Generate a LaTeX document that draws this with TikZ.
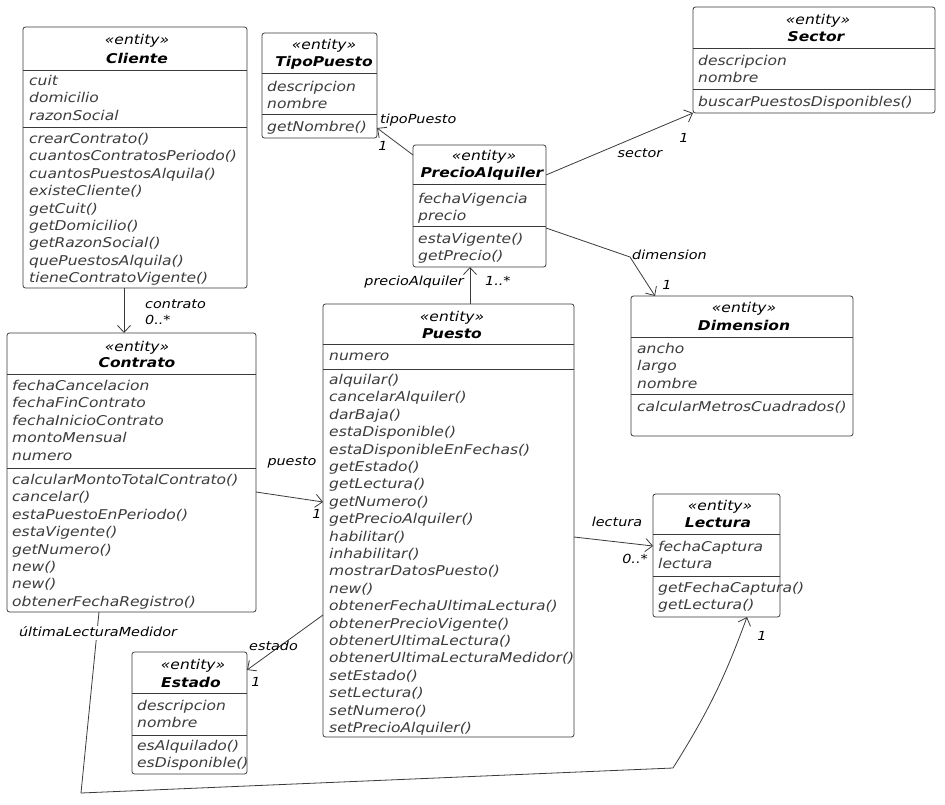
\documentclass[tikz,border=0pt]{standalone}
\usepackage{fontspec}
\usepackage{tikz}
\setmainfont{DejaVu Sans}[FakeStretch=1.15]
\usetikzlibrary{arrows.meta}
\definecolor{LineGray}{HTML}{3A3A3A}
\definecolor{MemberGray}{HTML}{3C3C3C}

\begin{document}
\begin{tikzpicture}[x=1pt,y=-1pt,
  every node/.style={font=\fontsize{13.5}{16}\selectfont},
  classbox/.style={draw=LineGray, line width=0.8pt, rounded corners=2.5pt, fill=white, anchor=north west, inner sep=0pt, outer sep=0pt},
  divider/.style={LineGray, line width=0.8pt},
  stereo/.style={font=\fontsize{13.5}{16}\selectfont\itshape, inner sep=0pt},
  cname/.style={font=\fontsize{13.5}{16}\selectfont\bfseries\itshape, inner sep=0pt},
  member/.style={font=\fontsize{13.5}{16}\selectfont\itshape, color=MemberGray, anchor=west, inner sep=0pt, text height=9.5pt, text depth=2.5pt},
  role/.style={font=\fontsize{12.5}{15}\selectfont\itshape, inner sep=0pt, text height=9pt, text depth=2.5pt},
  assoc/.style={LineGray, line width=0.8pt, -{Straight Barb[length=7pt,width=13pt,line width=0.8pt]}}]
  \useasboundingbox (0,0) rectangle (945,805);

  % Cliente
  \node[classbox, minimum width=224pt, minimum height=261pt] (cliente) at (23,27) {};
  \draw[divider] (23,70) -- (247,70);
  \draw[divider] (23,127) -- (247,127);
  \node[stereo] (cliS) at (137,41) {«entity»};
  \node[cname] (cliN) at (137,58) {Cliente};
  \foreach \t [count=\i from 0] in {cuit,domicilio,razonSocial}
    \node[member] (cliA\i) at (29,82+17.4*\i) {\t};
  \foreach \t [count=\i from 0] in {crearContrato(),cuantosContratosPeriodo(),cuantosPuestosAlquila(),existeCliente(),getCuit(),getDomicilio(),getRazonSocial(),quePuestosAlquila(),tieneContratoVigente()}
    \node[member] (cliM\i) at (29,140+17.4*\i) {\t};

  % TipoPuesto
  \node[classbox, minimum width=115pt, minimum height=105pt] (tipo) at (262,33) {};
  \draw[divider] (262,73) -- (377,73);
  \draw[divider] (262,114) -- (377,114);
  \node[stereo] (tipS) at (324,46) {«entity»};
  \node[cname] (tipN) at (324,63) {TipoPuesto};
  \foreach \t [count=\i from 0] in {descripcion,nombre}
    \node[member] (tipA\i) at (267,88+17.4*\i) {\t};
  \node[member] (tipM0) at (267,128) {getNombre()};

  % PrecioAlquiler
  \node[classbox, minimum width=133pt, minimum height=122pt] (precio) at (413,145) {};
  \draw[divider] (413,184) -- (546,184);
  \draw[divider] (413,226) -- (546,226);
  \node[stereo] (preS) at (484,157) {«entity»};
  \node[cname] (preN) at (482,174) {PrecioAlquiler};
  \foreach \t [count=\i from 0] in {fechaVigencia,precio}
    \node[member] (preA\i) at (418,200+17.4*\i) {\t};
  \foreach \t [count=\i from 0] in {estaVigente(),getPrecio()}
    \node[member] (preM\i) at (418,240+17.4*\i) {\t};

  % Sector
  \node[classbox, minimum width=242pt, minimum height=106pt] (sector) at (693,7) {};
  \draw[divider] (693,48) -- (935,48);
  \draw[divider] (693,89) -- (935,89);
  \node[stereo] (secS) at (818,21) {«entity»};
  \node[cname] (secN) at (816,37) {Sector};
  \foreach \t [count=\i from 0] in {descripcion,nombre}
    \node[member] (secA\i) at (698,62+17.4*\i) {\t};
  \node[member] (secM0) at (698,103) {buscarPuestosDisponibles()};

  % Dimension
  \node[classbox, minimum width=222pt, minimum height=140pt] (dimension) at (631,296) {};
  \draw[divider] (631,337) -- (853,337);
  \draw[divider] (631,394) -- (853,394);
  \node[stereo] (dimS) at (744,309) {«entity»};
  \node[cname] (dimN) at (744,325) {Dimension};
  \foreach \t [count=\i from 0] in {ancho,largo,nombre}
    \node[member] (dimA\i) at (637,350+17.4*\i) {\t};
  \node[member] (dimM0) at (637,408) {calcularMetrosCuadrados()};

  % Contrato
  \node[classbox, minimum width=249pt, minimum height=279pt] (contrato) at (7,333) {};
  \draw[divider] (7,374) -- (256,374);
  \draw[divider] (7,468) -- (256,468);
  \node[stereo] (conS) at (137,348) {«entity»};
  \node[cname] (conN) at (137,363) {Contrato};
  \foreach \t [count=\i from 0] in {fechaCancelacion,fechaFinContrato,fechaInicioContrato,montoMensual,numero}
    \node[member] (conA\i) at (12,387+17.4*\i) {\t};
  \foreach \t [count=\i from 0] in {calcularMontoTotalContrato(),cancelar(),estaPuestoEnPeriodo(),estaVigente(),getNumero(),new(),new(),obtenerFechaRegistro()}
    \node[member] (conM\i) at (12,481+17.4*\i) {\t};

  % Puesto
  \node[classbox, minimum width=251pt, minimum height=433pt] (puesto) at (323,304) {};
  \draw[divider] (323,344) -- (574,344);
  \draw[divider] (323,369) -- (574,369);
  \node[stereo] (pueS) at (452,318) {«entity»};
  \node[cname] (pueN) at (452,334) {Puesto};
  \node[member] (pueA0) at (329,357) {numero};
  \foreach \t [count=\i from 0] in {alquilar(),cancelarAlquiler(),darBaja(),estaDisponible(),estaDisponibleEnFechas(),getEstado(),getLectura(),getNumero(),getPrecioAlquiler(),habilitar(),inhabilitar(),mostrarDatosPuesto(),new(),obtenerFechaUltimaLectura(),obtenerPrecioVigente(),obtenerUltimaLectura(),obtenerUltimaLecturaMedidor(),setEstado(),setLectura(),setNumero(),setPrecioAlquiler()}
    \node[member] (pueM\i) at (329,381+17.4*\i) {\t};

  % Estado
  \node[classbox, minimum width=115pt, minimum height=122pt] (estado) at (132,652) {};
  \draw[divider] (132,693) -- (247,693);
  \draw[divider] (132,735) -- (247,735);
  \node[stereo] (estS) at (193,666) {«entity»};
  \node[cname] (estN) at (191,682) {Estado};
  \foreach \t [count=\i from 0] in {descripcion,nombre}
    \node[member] (estA\i) at (137,707+17.4*\i) {\t};
  \foreach \t [count=\i from 0] in {esAlquilado(),esDisponible()}
    \node[member] (estM\i) at (137,747+17.4*\i) {\t};

  % Lectura
  \node[classbox, minimum width=127pt, minimum height=123pt] (lectura) at (653,494) {};
  \draw[divider] (653,534) -- (780,534);
  \draw[divider] (653,576) -- (780,576);
  \node[stereo] (lecS) at (720,507) {«entity»};
  \node[cname] (lecN) at (718,523) {Lectura};
  \foreach \t [count=\i from 0] in {fechaCaptura,lectura}
    \node[member] (lecA\i) at (658,548+17.4*\i) {\t};
  \foreach \t [count=\i from 0] in {getFechaCaptura(),getLectura()}
    \node[member] (lecM\i) at (658,589+17.4*\i) {\t};

  % associations
  \draw[assoc] ([xshift=-11pt]cliente.south) -- ([xshift=-7.5pt]contrato.north);
  \node[role, anchor=west] (rContrato) at (145,305) {contrato};
  \node[role, anchor=west] (mContrato) at (145,321) {0..*};

  \draw[assoc] ([yshift=-19.5pt]contrato.east) -- ([yshift=18.5pt]puesto.west);
  \node[role] (rPuesto) at (292,462) {puesto};
  \node[role] (mPuesto) at (317,515) {1};

  \draw[assoc] ([xshift=21.5pt]puesto.north) -- ([xshift=-9.5pt]precio.south);
  \node[role, anchor=east] (rPrecio) at (464,282) {precioAlquiler};
  \node[role, anchor=west] (mPrecio) at (485,282) {1..*};

  \draw[assoc] ([yshift=-10pt]precio.north west) -- ([yshift=10pt]tipo.south east);
  \node[role, anchor=west] (rTipo) at (380,120) {tipoPuesto};
  \node[role] (mTipo) at (383,147) {1};

  \draw[assoc] ([yshift=31pt]precio.east) -- (sector.south west);
  \node[role] (rSector) at (640,154) {sector};
  \node[role] (mSector) at (684,139) {1};

  \coordinate (dimBend) at (630,257);
  \draw[assoc] ([yshift=-22pt]precio.east) -- (dimBend) -- ([xshift=-87pt]dimension.north);
  \node[role, anchor=west] (rDim) at (632,256) {dimension};
  \node[role] (mDim) at (667,286) {1};

  \draw[assoc] ([yshift=-94.5pt]puesto.west) -- ([yshift=43pt]estado.east);
  \node[role, anchor=west] (rEstado) at (249,647) {estado};
  \node[role] (mEstado) at (256,683) {1};

  \draw[assoc] ([yshift=-16.5pt]puesto.east) -- ([yshift=9.5pt]lectura.west);
  \node[role] (rLectura) at (617,523) {lectura};
  \node[role, anchor=east] (mLectura) at (648,560) {0..*};

  \coordinate (ulmA) at (81,793);
  \coordinate (ulmB) at (673,768);
  \draw[assoc] ([xshift=-32.5pt]contrato.south) -- (ulmA) -- (ulmB) to[bend right=6] ([xshift=30.5pt]lectura.south);
  \node[role, fill=white, inner sep=1pt] (rUltima) at (98,633) {últimaLecturaMedidor};
  \node[role] (mUltima) at (762,637) {1};
\end{tikzpicture}
\end{document}
